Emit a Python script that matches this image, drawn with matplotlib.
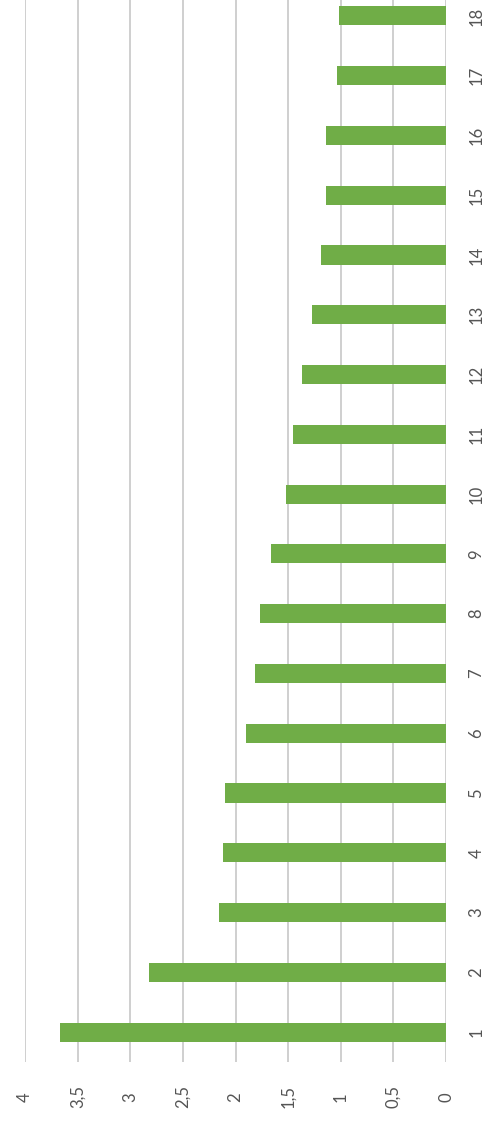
#!/usr/bin/env python3
"""Rotated column chart: 18 categories, values on a comma-decimal axis."""

import matplotlib
matplotlib.use("Agg")
import matplotlib.pyplot as plt
from matplotlib.ticker import FuncFormatter

# Data
categories = list(range(1, 19))
values = [3.67, 2.82, 2.16, 2.12, 2.10, 1.90, 1.81, 1.77, 1.66,
          1.52, 1.45, 1.37, 1.27, 1.19, 1.14, 1.14, 1.04, 1.02]
value_ticks = [0, 0.5, 1, 1.5, 2, 2.5, 3, 3.5, 4]

BAR_COLOR = '#70AD47'
GRID_COLOR = '#cccccc'
TEXT_COLOR = '#555555'

plt.rcParams['font.family'] = ['Lato', 'DejaVu Sans']


def comma_fmt(x, pos):
    """Format ticks with a decimal comma, like the source spreadsheet."""
    s = f"{x:g}"
    return s.replace('.', ',')


fig = plt.figure(figsize=(4.87, 11.22), dpi=100)
# axes spans a bit beyond the top edge, the source is cropped there
ax = fig.add_axes([25 / 487, 60 / 1122, 421 / 487, 1076 / 1122])

ax.barh(categories, values, height=0.32, color=BAR_COLOR, zorder=3)

ax.set_xlim(4, 0)
ax.set_ylim(0.5, 18.5)

ax.set_xticks(value_ticks)
ax.xaxis.set_major_formatter(FuncFormatter(comma_fmt))
ax.set_yticks(categories)
ax.set_yticklabels([str(c) for c in categories])

ax.grid(axis='x', color=GRID_COLOR, linewidth=1.3, zorder=0)
ax.grid(axis='y', visible=False)
for s in ax.spines.values():
    s.set_visible(False)

ax.yaxis.tick_right()
ax.tick_params(axis='x', length=0, pad=25, labelsize=12, colors=TEXT_COLOR)
ax.tick_params(axis='y', length=0, pad=22, labelsize=12, colors=TEXT_COLOR)
plt.setp(ax.get_xticklabels(), rotation=90, va='center', ha='center')
plt.setp(ax.get_yticklabels(), rotation=90, va='center', ha='center')

fig.savefig('out.png', dpi=100)
